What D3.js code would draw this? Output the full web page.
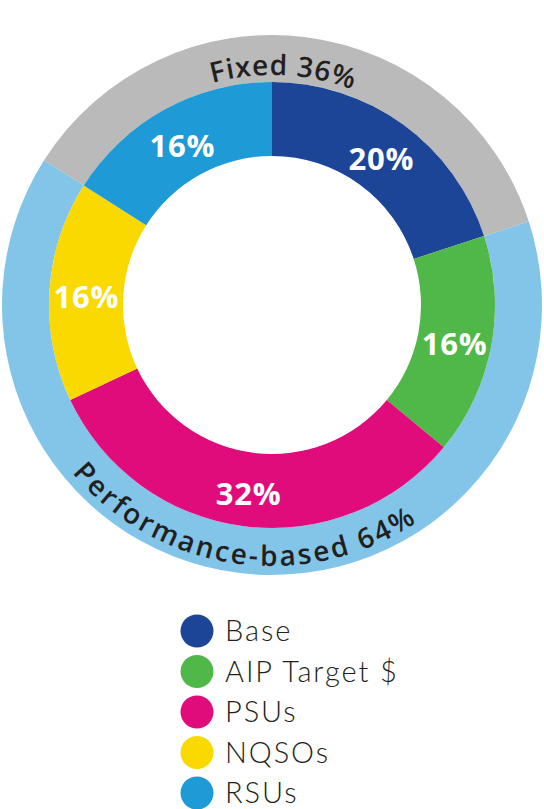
<!DOCTYPE html>
<html>
<head>
<meta charset="utf-8">
<script src="https://cdn.jsdelivr.net/npm/d3@7"></script>
<style>
  body { margin: 0; background: #fff; }
  svg { display: block; }
</style>
</head>
<body>
<div id="chart"></div>
<script>
// pay mix data
var categories = ["Base", "AIP Target $", "PSUs", "NQSOs", "RSUs"];
var shares = [20, 16, 32, 16, 16];
var sliceColors = ["#1c4598", "#50b848", "#e10c7c", "#f9d900", "#1e9ad6"];

var groups = ["Fixed", "Performance-based"];
var groupShares = [36, 64];
var groupColors = ["#bababa", "#82c5e8"];

var width = 544, height = 809;
var cx = 272, cy = 305;
var rHole = 149, rPie = 223, rRing = 270;

var svg = d3.select('#chart').append('svg')
    .attr('width', width)
    .attr('height', height)

var g = svg.append('g')
    .attr('transform', 'translate(' + cx + ',' + cy + ')');

var TAU = 2 * Math.PI;
// fixed ring begins where the RSU slice begins
var ringStart = -shares[shares.length - 1] / d3.sum(shares) * TAU;

var ringPie = d3.pie().sort(null).value(function(d){ return d; })
    .startAngle(ringStart).endAngle(ringStart + TAU);
var ringArc = d3.arc().innerRadius(rPie).outerRadius(rRing);
var ringSlices = ringPie(groupShares);

g.append('g').selectAll('path')
    .data(ringSlices)
    .enter().append('path')
    .attr('d', ringArc)
    .attr('fill', function(d, i){ return groupColors[i]; })

var pie = d3.pie().sort(null).value(function(d){ return d; });
var arc = d3.arc().innerRadius(rHole).outerRadius(rPie);
var slices = pie(shares);

g.append('g').selectAll('path')
    .data(slices)
    .enter().append('path')
    .attr('d', arc)
    .attr('fill', function(d, i){ return sliceColors[i]; })

g.append('g').selectAll('text')
    .data(slices)
    .enter().append('text')
    .attr('transform', function(d){
        var c = arc.centroid(d);
        return 'translate(' + c[0] + ',' + (c[1] + 4) + ')';
    })
    .attr('text-anchor', 'middle')
    .attr('dy', '0.36em')
    .attr('fill', '#fff')
    .style('font-family', '"Open Sans", sans-serif')
    .style('font-weight', 700)
    .style('font-size', '31px')
    .style('letter-spacing', '0.8px')
    .text(function(d){ return d.data + '%'; })

// curved ring labels, laid out one glyph at a time along the ring
var labelFont = '"Open Sans", sans-serif';
var labelWeight = 600;
var labelSize = 28;

function measure(str){
    var t = svg.append('text')
        .style('font-family', labelFont)
        .style('font-weight', labelWeight)
        .style('font-size', labelSize + 'px')
        .text(str.replace(/ /g, '\u00a0'));   // keep spaces from collapsing
    var w = t.node().getComputedTextLength();
    t.remove();
    return w;
}

// midAngle in degrees clockwise from top; dir 1 = clockwise (top), -1 = counter (bottom)
function ringLabel(str, r, midAngle, dir, spacing){
    var chars = str.split('');
    var full = measure(str) + spacing * (chars.length - 1);
    var layer = g.append('g');
    chars.forEach(function(ch, i){
        if (ch === ' ') return;
        var start = i ? measure(str.slice(0, i)) : 0;
        var w = measure(ch);
        var s = start + i * spacing + w / 2 - full / 2;
        var a = midAngle + dir * (s / r) * 180 / Math.PI;
        var rad = a * Math.PI / 180;
        layer.append('text')
            .attr('transform', 'translate(' + (r * Math.sin(rad)) + ',' + (-r * Math.cos(rad)) + ') rotate(' + (dir > 0 ? a : a - 180) + ')')
            .attr('text-anchor', 'middle')
            .attr('fill', '#231f20')
            .style('font-family', labelFont)
            .style('font-weight', labelWeight)
            .style('font-size', labelSize + 'px')
            .text(ch);
    });
}

var deg = 180 / Math.PI;
// top label sits a little left of its arc middle
var topMid = 2.7;
var bottomMid = (ringSlices[1].startAngle + ringSlices[1].endAngle) / 2 * deg;

ringLabel(groups[0] + ' ' + groupShares[0] + '%', 230, topMid, 1, 0.9);
ringLabel(groups[1] + ' ' + groupShares[1] + '%', 261, bottomMid + 1, -1, 2.6);

// legend
var legend = svg.append('g').attr('transform', 'translate(197,631)');
var item = legend.selectAll('g')
    .data(categories)
    .enter().append('g')
    .attr('transform', function(d, i){ return 'translate(0,' + (i * 40.5) + ')'; })

item.append('circle')
    .attr('r', 16.5)
    .attr('fill', function(d, i){ return sliceColors[i]; })

item.append('text')
    .attr('x', 28)
    .attr('y', 10)
    .attr('fill', '#231f20')
    .style('font-family', 'Lato, sans-serif')
    .style('font-weight', 300)
    .style('font-size', '29px')
    .style('letter-spacing', '1.9px')
    .text(function(d){ return d; })
</script>
</body>
</html>
